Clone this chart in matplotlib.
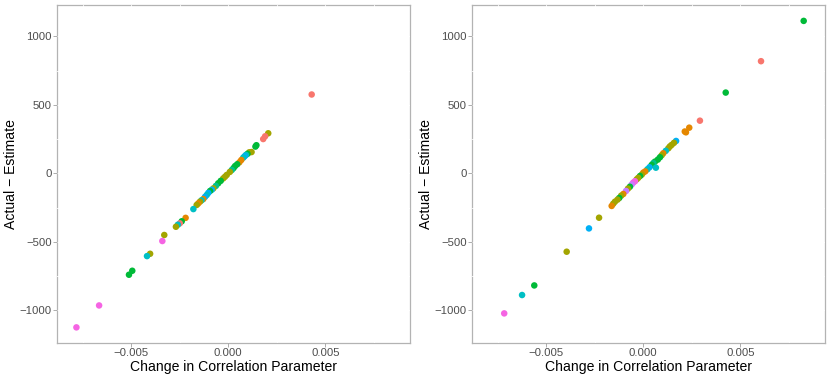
import matplotlib.pyplot as plt
from matplotlib.ticker import MultipleLocator

# ggplot-style hue palette used for the groups
palette = ["#F8766D", "#E58700", "#A3A500", "#00BA38", "#00C08B",
           "#00BFC4", "#00B0F6", "#C77CFF", "#F564E3"]

# left panel
x_left = [0.0043, 0.00206, 0.0019, 0.0018, 0.00145, 0.0014, 0.0012,
          0.00108, 0.00099, 0.00091, 0.00084, 0.00077, 0.00067, 0.00057, 0.00046,
          0.00035, 0.00027, 0.00018, 0.00008, -0.00008, -0.00017, -0.00026,
          -0.00039, -0.00052, -0.00064, -0.00077, -0.00085, -0.00094, -0.00103,
          -0.00111, -0.0012, -0.00129, -0.00138, -0.00146, -0.00155, -0.00163,
          -0.0018, -0.0022, -0.0024, -0.0025, -0.0026, -0.0027,
          -0.0033, -0.0034, -0.00403, -0.00419, -0.00495, -0.00512,
          -0.00666, -0.00783]
y_left = [575, 292, 270, 250, 205, 195, 155,
          153, 142, 134, 124, 114, 97, 80, 66,
          53, 38, 24, 10, -12, -25, -37,
          -55, -73, -92, -110, -120, -129, -143,
          -158, -172, -188, -197, -207, -220, -231,
          -261, -325, -350, -365, -375, -390,
          -450, -494, -587, -604, -711, -740,
          -964, -1124]
g_left = [0, 2, 0, 0, 3, 3, 2,
          2, 3, 5, 6, 5, 1, 1, 3,
          3, 3, 4, 2, 2, 2, 2,
          3, 3, 4, 2, 6, 3, 6,
          5, 6, 1, 5, 2, 1, 2,
          5, 1, 3, 0, 5, 2,
          2, 8, 2, 5, 3, 3,
          8, 8]

# right panel
x_right = [0.00827, 0.00607, 0.00425, 0.00292, 0.00237, 0.0022, 0.00214,
           0.00169, 0.00158, 0.00146, 0.00137, 0.00129, 0.00116, 0.00103, 0.00095,
           0.00086, 0.00075, 0.0006, 0.00052, 0.00043, 0.00032, 0.00021, 0.00065,
           0.0001, 0.0, -0.00008, -0.00017, -0.00026, -0.00034, -0.00043, -0.00052,
           -0.0006, -0.00069, -0.00079, -0.00089, -0.00103, -0.00114, -0.00124,
           -0.00133, -0.00146, -0.00155, -0.00163, -0.00228, -0.0028, -0.00395,
           -0.00562, -0.00625, -0.00717]
y_right = [1112, 818, 589, 384, 333, 299, 305,
           236, 222, 207, 196, 182, 164, 146, 132,
           117, 100, 85, 75, 61, 44, 29, 41,
           14, 5, -10, -20, -33, -44, -58, -68,
           -82, -98, -112, -129, -151, -163, -180,
           -192, -207, -222, -238, -324, -402, -572,
           -818, -888, -1022]
g_right = [3, 0, 3, 0, 1, 1, 1,
           6, 2, 2, 2, 2, 5, 1, 2,
           3, 3, 3, 4, 3, 6, 5, 5,
           1, 1, 2, 3, 2, 2, 8, 8,
           7, 3, 2, 7, 1, 2, 3,
           2, 2, 2, 1, 2, 6, 2,
           3, 5, 8]

plt.rcParams["font.family"] = ["Liberation Sans", "DejaVu Sans"]

fig = plt.figure(figsize=(8.3, 3.78), dpi=100)
ax1 = fig.add_axes([0.0687, 0.0926, 0.4253, 0.8942])
ax2 = fig.add_axes([0.5687, 0.0926, 0.4253, 0.8942])

for ax, xs, ys, gs in [(ax1, x_left, y_left, g_left), (ax2, x_right, y_right, g_right)]:
    cols = [palette[g] for g in gs]
    ax.scatter(xs, ys, c=cols, s=22, linewidths=0, zorder=4)
    ax.set_xlim(-0.00883, 0.00937)
    ax.set_ylim(-1238, 1228)
    ax.xaxis.set_major_locator(MultipleLocator(0.005))
    ax.xaxis.set_minor_locator(MultipleLocator(0.0025))
    ax.yaxis.set_major_locator(MultipleLocator(500))
    ax.yaxis.set_minor_locator(MultipleLocator(250))
    ax.xaxis.set_major_formatter(lambda v, p: f"{v:.3f}".replace("-", "\u2212"))
    ax.yaxis.set_major_formatter(lambda v, p: f"{v:.0f}".replace("-", "\u2212"))
    # white grid lines break the border like the original
    ax.grid(True, which="both", color="white", linewidth=0.6, zorder=3)
    ax.set_axisbelow(False)
    for sp in ax.spines.values():
        sp.set_color("#B3B3B3")
        sp.set_linewidth(0.9)
        sp.set_zorder(2)
    ax.tick_params(which="major", length=3, width=0.6, color="#A0A0A0",
                   labelsize=8.2, labelcolor="#4D4D4D", pad=0.8)
    ax.tick_params(which="minor", length=0)
    ax.set_xlabel("Change in Correlation Parameter", fontsize=10.1, labelpad=1)
    ax.set_ylabel("Actual \u2212 Estimate", fontsize=10.1, labelpad=1)

fig.savefig("out.png", dpi=100)
